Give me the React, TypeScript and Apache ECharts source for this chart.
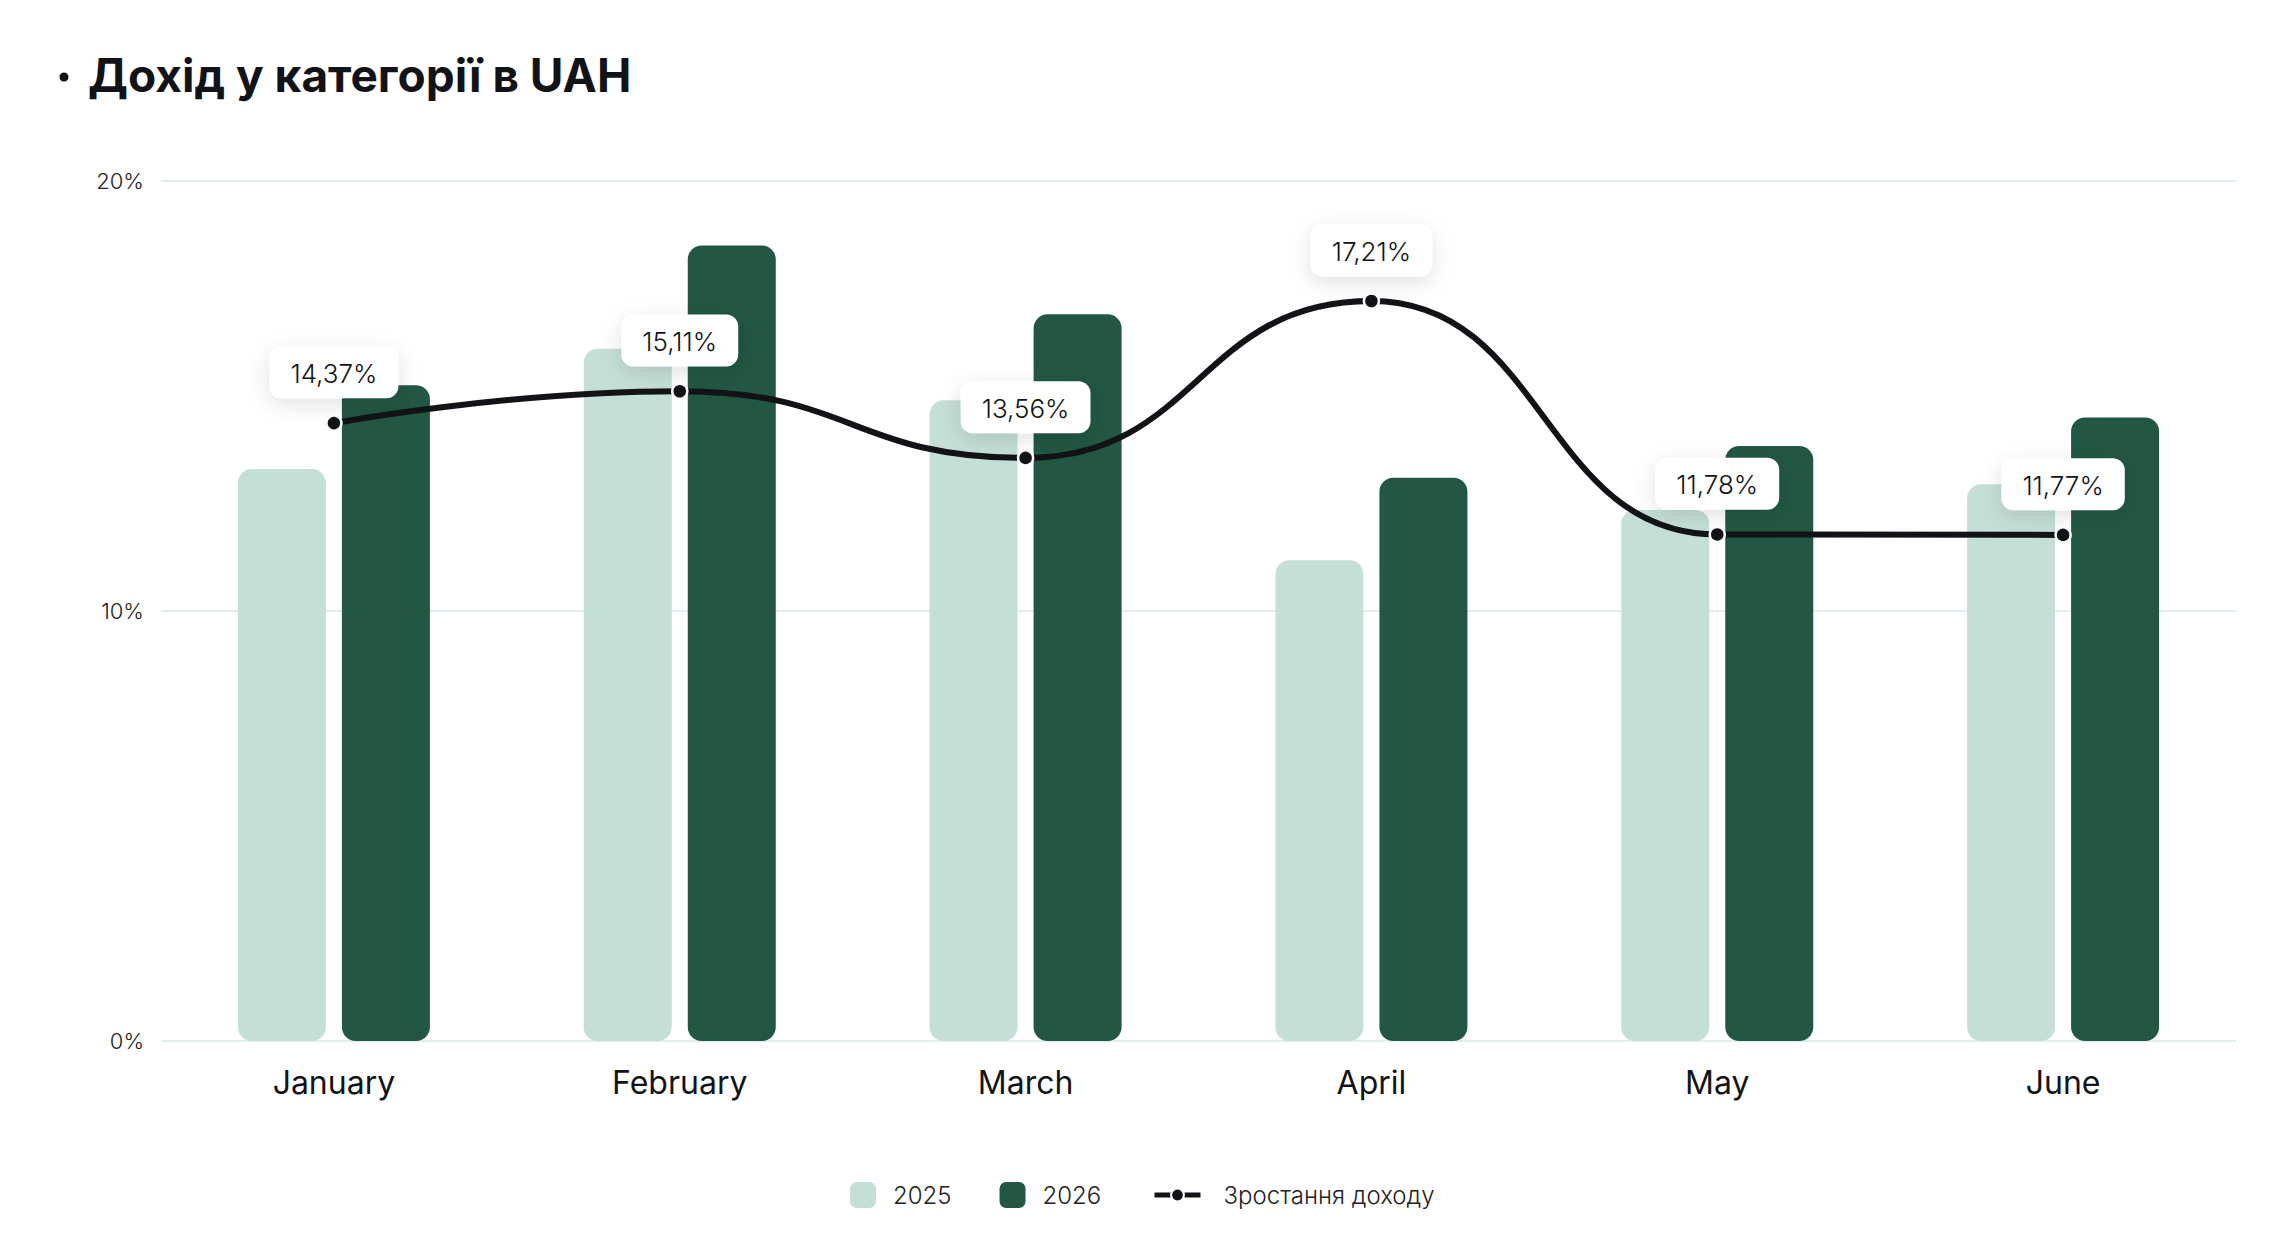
import React, { useEffect, useRef } from "react";
import * as echarts from "echarts";

const categories = ["January", "February", "March", "April", "May", "June"];
const values2025 = [13.3, 16.1, 14.9, 11.18, 12.35, 12.95];
const values2026 = [15.25, 18.5, 16.9, 13.1, 13.84, 14.5];
const growth = [14.37, 15.11, 13.56, 17.21, 11.78, 11.77];
const yTicks = { min: 0, max: 20, interval: 10 };

const FONT = "Inter, 'Noto Sans', sans-serif";

export default function App() {
  const ref = useRef<HTMLDivElement>(null);
  useEffect(() => {
    if (!ref.current) return;
    const chart = echarts.init(ref.current, null, { renderer: "svg" });
    chart.setOption({
      animation: false,
      backgroundColor: "#ffffff",
      textStyle: { fontFamily: FONT },
      title: {
        text: "Дохід у категорії в UAH",
        left: 88,
        top: 47,
        padding: 0,
        textStyle: {
          fontFamily: FONT,
          fontSize: 46,
          fontWeight: 700,
          color: "#111316",
          lineHeight: 56,
        },
      },
      graphic: [
        {
          type: "circle",
          shape: { cx: 64, cy: 77, r: 4.5 },
          style: { fill: "#111316" },
        },
      ],
      grid: { left: 161, right: 60, top: 181, bottom: 205 },
      legend: [
        {
          data: ["2025", "2026"],
          left: 850,
          top: 1182,
          padding: 0,
          itemWidth: 26,
          itemHeight: 26,
          itemGap: 48,
          icon: "roundRect",
          textStyle: {
            fontFamily: FONT,
            fontSize: 24,
            fontWeight: 300,
            color: "#222",
            lineHeight: 26,
            padding: [0, 0, 0, 12],
          },
        },
        {
          data: ["Зростання доходу"],
          left: 1152,
          top: 1182,
          padding: 0,
          itemWidth: 46,
          itemHeight: 16,
          lineStyle: { width: 5 },
          textStyle: {
            fontFamily: FONT,
            fontSize: 24,
            fontWeight: 300,
            color: "#222",
            lineHeight: 26,
            padding: [0, 0, 0, 18],
          },
        },
      ],
      xAxis: {
        type: "category",
        data: categories,
        axisLine: { show: false },
        axisTick: { show: false },
        axisLabel: {
          fontFamily: FONT,
          fontSize: 32,
          fontWeight: 400,
          color: "#111316",
          margin: 25,
        },
      },
      yAxis: {
        type: "value",
        min: yTicks.min,
        max: yTicks.max,
        interval: yTicks.interval,
        axisLine: { show: false },
        axisTick: { show: false },
        axisLabel: {
          formatter: "{value}%",
          fontFamily: FONT,
          fontSize: 22,
          fontWeight: 300,
          color: "#222",
          margin: 17,
        },
        splitLine: { lineStyle: { color: "#e3eee6", width: 2 } },
      },
      series: [
        {
          name: "2025",
          type: "bar",
          data: values2025,
          barWidth: 88,
          barGap: "18.2%",
          itemStyle: { color: "#c4dfd6", borderRadius: 14 },
        },
        {
          name: "2026",
          type: "bar",
          data: values2026,
          barWidth: 88,
          barGap: "18.2%",
          itemStyle: { color: "#215743", borderRadius: 14 },
        },
        {
          name: "Зростання доходу",
          type: "line",
          data: growth,
          smooth: 0.5,
          smoothMonotone: "x",
          symbol: "circle",
          symbolSize: 15,
          z: 5,
          lineStyle: { color: "#111316", width: 6 },
          itemStyle: { color: "#111316", borderColor: "#ffffff", borderWidth: 2.5 },
          label: {
            show: true,
            position: "top",
            distance: 16,
            formatter: (p: any) => String(p.value.toFixed(2)).replace(".", ",") + "%",
            fontFamily: FONT,
            fontSize: 26,
            fontWeight: 300,
            color: "#111316",
            backgroundColor: "#ffffff",
            borderRadius: 12,
            padding: [14, 21, 12, 21],
            shadowBlur: 22,
            shadowColor: "rgba(0,0,0,0.12)",
            shadowOffsetY: 6,
          },
        },
      ],
    });
    return () => chart.dispose();
  }, []);
  return (
    <div
      ref={ref}
      style={{ position: "absolute", left: 0, top: 0, width: 2296, height: 1246 }}
    />
  );
}
